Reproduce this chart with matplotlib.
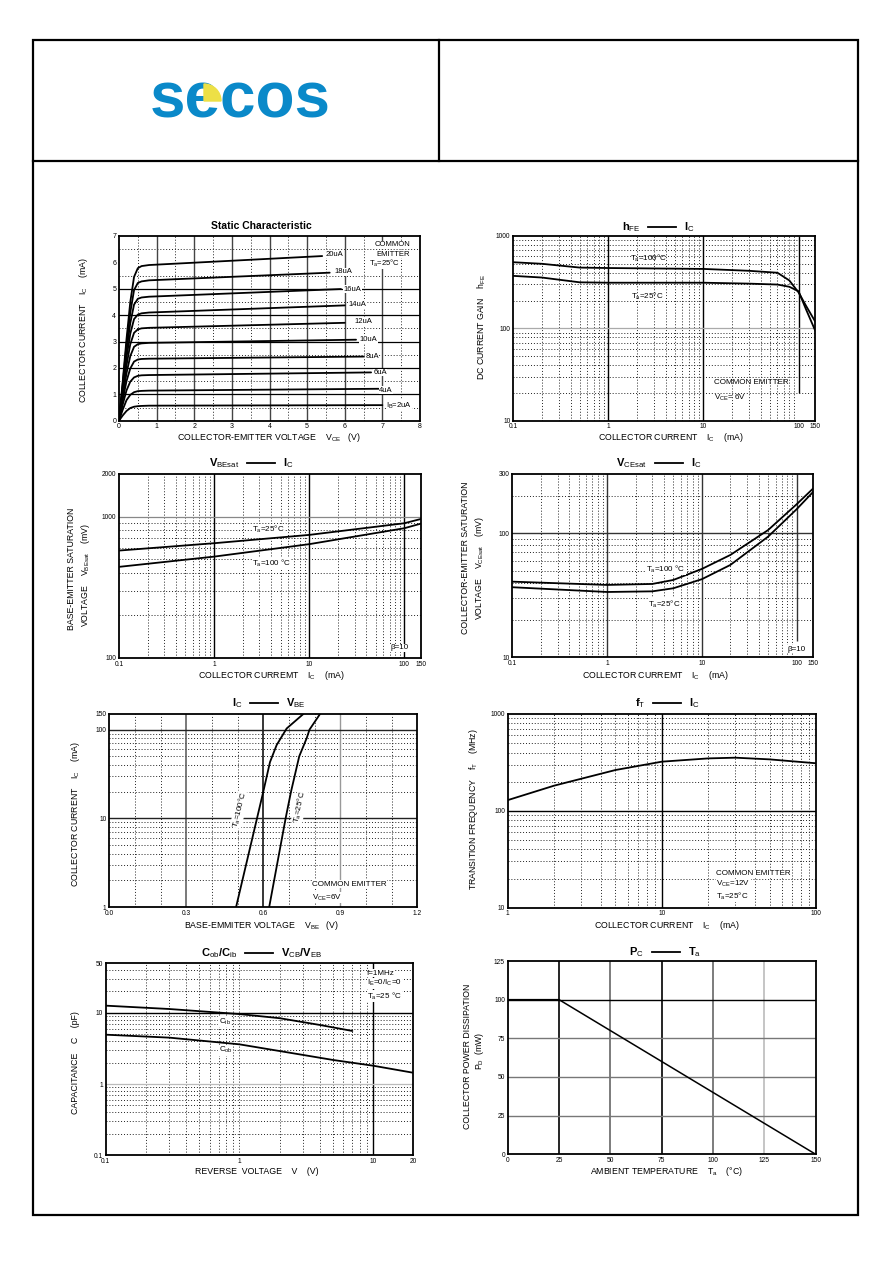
import numpy as np
import matplotlib
matplotlib.use('Agg')
import matplotlib.pyplot as plt
from matplotlib.patches import Wedge, Rectangle
from matplotlib.lines import Line2D

plt.rcParams['font.family'] = ['Liberation Sans', 'DejaVu Sans']
plt.rcParams['mathtext.fontset'] = 'custom'
plt.rcParams['mathtext.rm'] = 'Liberation Sans'
plt.rcParams['mathtext.it'] = 'Liberation Sans'
plt.rcParams['mathtext.bf'] = 'Liberation Sans:bold'

# ---------------- DATA ----------------
# Static characteristic (Ic vs Vce for several Ib)
vce_knee = [0, 0.1, 0.2, 0.3, 0.4, 0.5, 0.6, 0.8]
ib_labels = ['20uA', '18uA', '16uA', '14uA', '12uA', '10uA', '8uA', '6uA', '4uA', 'I$_B$=2uA']
ib_end_vce = [5.4, 5.6, 5.9, 6.0, 6.0, 6.3, 6.5, 6.7, 6.9, 7.0]
ic_ib20 = [0, 1.5, 3.1, 4.5, 5.45, 5.78, 5.86, 5.9, 6.24]
ic_ib18 = [0, 1.4, 2.9, 4.1, 4.95, 5.22, 5.28, 5.32, 5.61]
ic_ib16 = [0, 1.3, 2.65, 3.7, 4.4, 4.62, 4.67, 4.7, 4.99]
ic_ib14 = [0, 1.2, 2.4, 3.3, 3.85, 4.02, 4.07, 4.1, 4.37]
ic_ib12 = [0, 1.1, 2.1, 2.9, 3.33, 3.46, 3.5, 3.52, 3.71]
ic_ib10 = [0, 0.95, 1.8, 2.45, 2.8, 2.9, 2.93, 2.95, 3.07]
ic_ib8 = [0, 0.8, 1.5, 1.98, 2.24, 2.32, 2.34, 2.35, 2.43]
ic_ib6 = [0, 0.62, 1.15, 1.48, 1.64, 1.7, 1.72, 1.73, 1.83]
ic_ib4 = [0, 0.42, 0.78, 0.98, 1.08, 1.12, 1.13, 1.14, 1.21]
ic_ib2 = [0, 0.2, 0.37, 0.48, 0.53, 0.55, 0.56, 0.57, 0.59]
static_label_x = [5.5, 5.74, 5.96, 6.1, 6.25, 6.4, 6.55, 6.76, 6.91, 7.1]
static_label_y = [6.31, 5.65, 4.99, 4.39, 3.75, 3.06, 2.43, 1.83, 1.16, 0.56]

# hFE vs Ic
hfe_ic = [0.1, 0.2, 0.5, 1, 10, 30, 60, 80, 100, 120, 150]
hfe_100c = [520, 500, 455, 450, 440, 420, 400, 330, 245, 175, 118]
hfe_25c = [370, 355, 315, 312, 312, 305, 298, 282, 252, 160, 94]

# VBEsat vs Ic
vbe_ic = [0.1, 1, 10, 100, 150]
vbe_25c = [575, 648, 742, 897, 962]
vbe_100c = [441, 521, 638, 827, 892]

# VCEsat vs Ic
vce_ic = [0.1, 1, 3, 5, 10, 20, 50, 100, 150]
vce_100c = [40.7, 38.3, 39, 42, 51.5, 66.8, 106, 171, 230]
vce_25c = [36.7, 33.6, 34, 36, 42.6, 55.5, 93.8, 156, 216]

# Ic vs VBE
vbe_100c_v = [0.494, 0.551, 0.600, 0.626, 0.652, 0.691, 0.756]
ic_100c = [1, 5, 20, 43, 67, 103, 150]
vbe_25c_v = [0.623, 0.687, 0.708, 0.740, 0.769, 0.780, 0.821]
ic_25c = [1, 10, 20, 50, 80, 100, 150]

# fT vs Ic
ft_ic = [1, 2, 5, 10, 20, 30, 50, 100]
ft_mhz = [129, 182, 264, 322, 348, 354, 340, 310]

# Capacitance vs reverse voltage
cib_v = [0.1, 0.3, 1, 2, 4, 7]
cib_pf = [12.6, 11.3, 9.6, 8.4, 6.75, 5.56]
cob_v = [0.1, 0.3, 1, 3, 5, 10, 20]
cob_pf = [4.93, 4.48, 3.61, 2.56, 2.18, 1.81, 1.44]

# Power derating
ta_c = [0, 25, 150]
pd_mw = [100, 100, 0]

# tick labels
static_xticks = [0, 1, 2, 3, 4, 5, 6, 7, 8]
static_yticks = [0, 1, 2, 3, 4, 5, 6, 7]
ic_ticks_150 = [0.1, 1, 10, 100, 150]
ic_ticklabels_150 = ['0.1', '1', '10', '100', '150']
hfe_yticks = [10, 100, 1000]
vbe_yticks = [100, 1000, 2000]
vce_yticks = [10, 100, 300]
vbe_xticks = [0.0, 0.3, 0.6, 0.9, 1.2]
vbe_xticklabels = ['0.0', '0.3', '0.6', '0.9', '1.2']
icv_yticks = [1, 10, 100, 150]
ft_xticks = [1, 10, 100]
ft_yticks = [10, 100, 1000]
cap_xticks = [0.1, 1, 10, 20]
cap_xticklabels = ['0.1', '1', '10', '20']
cap_yticks = [0.1, 1, 10, 50]
cap_yticklabels = ['0.1', '1', '10', '50']
pd_xticks = [0, 25, 50, 75, 100, 125, 150]
pd_yticks = [0, 25, 50, 75, 100, 125]

# ---------------- FIGURE ----------------
W, H = 892, 1263
fig = plt.figure(figsize=(W / 100, H / 100), dpi=100)

def px_axes(l, r, t, b):
    return fig.add_axes([l / W, 1 - b / H, (r - l) / W, (b - t) / H])

def ftext(x, y, s, **kw):
    return fig.text(x / W, 1 - y / H, s, **kw)

DOT = (0, (1, 2))
DOTC = '#222222'
LABFS = 6.3
TICKFS = 4.8
ANNFS = 5.8
CURVE = dict(color='black', lw=1.3, solid_capstyle='round', zorder=5)
WB = dict(fc='white', ec='none', pad=0.3)

def style(ax, tfs=TICKFS):
    for sp in ax.spines.values():
        sp.set_linewidth(1.3)
        sp.set_color('black')
        sp.set_zorder(6)
    ax.tick_params(which='both', length=0, labelsize=tfs, pad=2)
    ax.minorticks_off()

def log_minor(lo, hi):
    out = []
    d = 10 ** np.floor(np.log10(lo))
    while d < hi:
        for m in range(2, 10):
            v = m * d
            if lo * 1.0001 < v < hi * 0.9999:
                out.append(v)
        d *= 10
    return out

def dotted_v(ax, vals):
    for v in vals:
        ax.axvline(v, ls=DOT, lw=0.7, color=DOTC, zorder=1)

def dotted_h(ax, vals):
    for v in vals:
        ax.axhline(v, ls=DOT, lw=0.7, color=DOTC, zorder=1)

def title(x, y, left, right):
    ftext(x - 22, y, left, ha='right', va='center', fontsize=8, fontweight='bold')
    ftext(x + 22, y, right, ha='left', va='center', fontsize=8, fontweight='bold')
    fig.add_artist(Line2D([(x - 14) / W, (x + 14) / W], [1 - y / H, 1 - y / H],
                          color='black', lw=1.3, transform=fig.transFigure))

# ---------------- PAGE FRAME ----------------
fig.add_artist(Rectangle((33 / W, 1 - 1215 / H), (858 - 33) / W, (1215 - 40) / H,
                         transform=fig.transFigure, fill=False, lw=1.6, ec='black'))
fig.add_artist(Line2D([33 / W, 858 / W], [1 - 161 / H, 1 - 161 / H], color='black',
                      lw=1.6, transform=fig.transFigure))
fig.add_artist(Line2D([439 / W, 439 / W], [1 - 40 / H, 1 - 161 / H], color='black',
                      lw=1.6, transform=fig.transFigure))

# logo
ftext(240, 118, 'secos', ha='center', va='baseline', fontsize=46,
      fontweight='bold', color='#0a89c9')
fig.add_artist(Wedge((2.04, (H - 101) / 100), 0.17, 0, 90, transform=fig.dpi_scale_trans,
                     color='#ede046', zorder=10))

# ---------------- 1. Static characteristic ----------------
ax = px_axes(119, 420, 236, 420.7)
style(ax, 5)
ax.set_xlim(0, 8); ax.set_ylim(0, 7)
dotted_v(ax, np.arange(0.5, 8, 1))
dotted_h(ax, np.arange(0.5, 7, 1))
for v in range(1, 8):
    ax.axvline(v, color='#444444', lw=1.0, zorder=1)
for v in range(1, 6):
    ax.axhline(v, color='black', lw=0.9, zorder=1)
curves = [ic_ib20, ic_ib18, ic_ib16, ic_ib14, ic_ib12, ic_ib10, ic_ib8, ic_ib6, ic_ib4, ic_ib2]
for ys, xe, lab, lx, ly in zip(curves, ib_end_vce, ib_labels, static_label_x, static_label_y):
    ax.plot(vce_knee + [xe], ys, **CURVE)
    ax.text(lx, ly, lab, fontsize=5.5, ha='left', va='center', zorder=7, bbox=WB)
ax.text(7.28, 6.66, 'COMMON', fontsize=5.5, ha='center', va='center', zorder=7, bbox=WB)
ax.text(7.28, 6.31, 'EMITTER', fontsize=5.5, ha='center', va='center', zorder=7, bbox=WB)
ax.text(6.65, 5.97, 'T$_a$=25°C', fontsize=5.5, ha='left', va='center', zorder=7, bbox=WB)
ax.set_xticks(static_xticks); ax.set_yticks(static_yticks)
ftext(261, 226, 'Static Characteristic', ha='center', va='center', fontsize=7.5, fontweight='bold')
ftext(269, 437, 'COLLECTOR-EMITTER VOLTAGE    V$_{CE}$   (V)', ha='center', va='center', fontsize=LABFS)
ftext(83, 330, 'COLLECTOR CURRENT    I$_C$    (mA)', ha='center', va='center',
      fontsize=LABFS, rotation=90)

# ---------------- 2. hFE - Ic ----------------
ax = px_axes(513.3, 815.3, 236, 420.7)
style(ax)
ax.set_xscale('log'); ax.set_yscale('log')
ax.set_xlim(0.1, 150); ax.set_ylim(10, 1000)
dotted_v(ax, log_minor(0.1, 150))
dotted_h(ax, log_minor(10, 1000))
for v in [1, 10]:
    ax.axvline(v, color='black', lw=1.0, zorder=2)
ax.vlines(100, 20, 1000, color='black', lw=1.0, zorder=2)
ax.axhline(100, color='#aaaaaa', lw=0.9, zorder=2)
ax.plot(hfe_ic, hfe_100c, **CURVE)
ax.plot(hfe_ic, hfe_25c, **CURVE)
ax.text(1.7, 575, 'T$_a$=100°C', fontsize=ANNFS, ha='left', va='center', zorder=7)
ax.text(1.75, 222, 'T$_a$=25°C', fontsize=ANNFS, ha='left', va='center', zorder=7)
ax.text(13, 26, 'COMMON EMITTER', fontsize=ANNFS, ha='left', va='center', zorder=7)
ax.text(13, 17.5, 'V$_{CE}$= 6V', fontsize=ANNFS, ha='left', va='center', zorder=7)
ax.set_xticks(ic_ticks_150); ax.set_xticklabels(ic_ticklabels_150)
ax.set_yticks(hfe_yticks); ax.set_yticklabels([str(v) for v in hfe_yticks])
ax.minorticks_off()
title(662, 227, 'h$_{FE}$', 'I$_C$')
ftext(671, 437, 'COLLECTOR CURRENT    I$_C$    (mA)', ha='center', va='center', fontsize=LABFS)
ftext(482, 327, 'DC CURRENT GAIN    h$_{FE}$', ha='center', va='center',
      fontsize=LABFS, rotation=90)

# ---------------- 3. VBEsat - Ic ----------------
ax = px_axes(119, 421, 474, 658)
style(ax)
ax.set_xscale('log'); ax.set_yscale('log')
ax.set_xlim(0.1, 150); ax.set_ylim(100, 2000)
dotted_v(ax, log_minor(0.1, 150))
dotted_h(ax, log_minor(100, 2000))
for v in [1, 10, 100]:
    ax.axvline(v, color='black', lw=1.0, zorder=2)
ax.axhline(1000, color='#888888', lw=0.9, zorder=2)
ax.plot(vbe_ic, vbe_25c, **CURVE)
ax.plot(vbe_ic, vbe_100c, **CURVE)
ax.text(2.5, 805, 'T$_a$=25°C', fontsize=ANNFS, ha='left', va='center', zorder=7, bbox=WB)
ax.text(2.5, 463, 'T$_a$=100 °C', fontsize=ANNFS, ha='left', va='center', zorder=7, bbox=WB)
ax.text(72, 118, 'β=10', fontsize=ANNFS, ha='left', va='center', zorder=7, bbox=WB)
ax.set_xticks(ic_ticks_150); ax.set_xticklabels(ic_ticklabels_150)
ax.set_yticks(vbe_yticks); ax.set_yticklabels([str(v) for v in vbe_yticks])
ax.minorticks_off()
title(261, 463, 'V$_{BEsat}$', 'I$_C$')
ftext(271, 676, 'COLLECTOR CURREMT    I$_C$    (mA)', ha='center', va='center', fontsize=LABFS)
ftext(72, 569, 'BASE-EMITTER SATURATION', ha='center', va='center', fontsize=LABFS, rotation=90)
ftext(85, 575, 'VOLTAGE    V$_{BEsat}$    (mV)', ha='center', va='center', fontsize=LABFS, rotation=90)

# ---------------- 4. VCEsat - Ic ----------------
ax = px_axes(512.3, 813.3, 474, 657.3)
style(ax)
ax.set_xscale('log'); ax.set_yscale('log')
ax.set_xlim(0.1, 150); ax.set_ylim(10, 300)
dotted_v(ax, log_minor(0.1, 150))
dotted_h(ax, log_minor(10, 300))
for v in [1, 10]:
    ax.axvline(v, color='#333333', lw=1.0, zorder=2)
ax.vlines(100, 13.5, 300, color='#333333', lw=1.0, zorder=2)
ax.axhline(100, color='#333333', lw=1.0, zorder=2)
ax.plot(vce_ic, vce_100c, **CURVE)
ax.plot(vce_ic, vce_25c, **CURVE)
ax.text(2.6, 51.5, 'T$_a$=100 °C', fontsize=ANNFS, ha='left', va='center', zorder=7, bbox=WB)
ax.text(2.7, 26.7, 'T$_a$=25°C', fontsize=ANNFS, ha='left', va='center', zorder=7, bbox=WB)
ax.text(80, 11.6, 'β=10', fontsize=ANNFS, ha='left', va='center', zorder=7, bbox=WB)
ax.set_xticks(ic_ticks_150); ax.set_xticklabels(ic_ticklabels_150)
ax.set_yticks(vce_yticks); ax.set_yticklabels([str(v) for v in vce_yticks])
ax.minorticks_off()
title(669, 463, 'V$_{CEsat}$', 'I$_C$')
ftext(655, 675, 'COLLECTOR CURREMT    I$_C$    (mA)', ha='center', va='center', fontsize=LABFS)
ftext(466, 558, 'COLLECTOR-EMITTER SATURATION', ha='center', va='center', fontsize=LABFS, rotation=90)
ftext(479, 568, 'VOLTAGE    V$_{CEsat}$    (mV)', ha='center', va='center', fontsize=LABFS, rotation=90)

# ---------------- 5. Ic - VBE ----------------
ax = px_axes(109.3, 417.3, 714, 907)
style(ax)
ax.set_yscale('log')
ax.set_xlim(0, 1.2); ax.set_ylim(1, 150)
dotted_v(ax, [0.1, 0.2, 0.4, 0.5, 0.7, 0.8, 1.0, 1.1])
dotted_h(ax, log_minor(1, 150))
ax.axvline(0.3, color='#555555', lw=1.1, zorder=2)
ax.axvline(0.6, color='black', lw=1.1, zorder=2)
ax.axvline(0.9, color='#999999', lw=1.0, zorder=2)
ax.axhline(10, color='#222222', lw=1.0, zorder=2)
ax.axhline(100, color='#222222', lw=1.0, zorder=2)
ax.plot(vbe_100c_v, ic_100c, **CURVE)
ax.plot(vbe_25c_v, ic_25c, **CURVE)
ax.text(0.508, 12.5, 'T$_a$=100°C', fontsize=ANNFS, ha='center', va='center', rotation=76, zorder=7,
        bbox=dict(fc='white', ec='none', pad=0.2))
ax.text(0.742, 13.5, 'T$_a$=25°C', fontsize=ANNFS, ha='center', va='center', rotation=78, zorder=7,
        bbox=dict(fc='white', ec='none', pad=0.2))
ax.text(0.79, 1.8, 'COMMON EMITTER', fontsize=ANNFS, ha='left', va='center', zorder=7, bbox=WB)
ax.text(0.79, 1.27, 'V$_{CE}$=6V', fontsize=ANNFS, ha='left', va='center', zorder=7, bbox=WB)
ax.set_xticks(vbe_xticks); ax.set_xticklabels(vbe_xticklabels)
ax.set_yticks(icv_yticks); ax.set_yticklabels([str(v) for v in icv_yticks])
ax.minorticks_off()
title(264, 703, 'I$_C$', 'V$_{BE}$')
ftext(261, 925, 'BASE-EMMITER VOLTAGE    V$_{BE}$   (V)', ha='center', va='center', fontsize=LABFS)
ftext(75, 814, 'COLLECTOR CURRENT    I$_C$    (mA)', ha='center', va='center', fontsize=LABFS, rotation=90)

# ---------------- 6. fT - Ic ----------------
ax = px_axes(507.7, 816, 714, 907.7)
style(ax)
ax.set_xscale('log'); ax.set_yscale('log')
ax.set_xlim(1, 100); ax.set_ylim(10, 1000)
dotted_v(ax, log_minor(1, 100))
dotted_h(ax, log_minor(10, 1000))
ax.axvline(10, color='black', lw=1.0, zorder=2)
ax.axhline(100, color='black', lw=1.0, zorder=2)
ax.plot(ft_ic, ft_mhz, **CURVE)
ax.text(22.5, 22.3, 'COMMON EMITTER', fontsize=ANNFS, ha='left', va='center', zorder=7, bbox=WB)
ax.text(22.5, 17.5, 'V$_{CE}$=12V', fontsize=ANNFS, ha='left', va='center', zorder=7, bbox=WB)
ax.text(22.5, 13.1, 'T$_a$=25°C', fontsize=ANNFS, ha='left', va='center', zorder=7, bbox=WB)
ax.set_xticks(ft_xticks); ax.set_xticklabels([str(v) for v in ft_xticks])
ax.set_yticks(ft_yticks); ax.set_yticklabels([str(v) for v in ft_yticks])
ax.minorticks_off()
title(667, 703, 'f$_T$', 'I$_C$')
ftext(667, 925, 'COLLECTOR CURRENT    I$_C$    (mA)', ha='center', va='center', fontsize=LABFS)
ftext(473, 809, 'TRANSITION FREQUENCY    f$_T$    (MHz)', ha='center', va='center', fontsize=LABFS, rotation=90)

# ---------------- 7. Capacitance ----------------
ax = px_axes(105.7, 413.3, 963, 1155.3)
style(ax)
ax.set_xscale('log'); ax.set_yscale('log')
ax.set_xlim(0.1, 20); ax.set_ylim(0.1, 50)
dotted_v(ax, log_minor(0.1, 20) + [1])
dotted_h(ax, log_minor(0.1, 50))
ax.axvline(10, color='black', lw=1.0, zorder=2)
ax.axhline(10, color='black', lw=1.0, zorder=2)
ax.axhline(1, color='#bbbbbb', lw=0.9, zorder=2)
ax.plot(cib_v, cib_pf, **CURVE)
ax.plot(cob_v, cob_pf, **CURVE)
ax.text(0.7, 7.5, 'C$_{ib}$', fontsize=ANNFS, ha='left', va='center', zorder=7, bbox=WB)
ax.text(0.7, 3.0, 'C$_{ob}$', fontsize=ANNFS, ha='left', va='center', zorder=7, bbox=WB)
ax.text(9.0, 35.8, 'f=1MHz', fontsize=ANNFS, ha='left', va='center', zorder=7, bbox=WB)
ax.text(9.0, 25.9, 'I$_E$=0/I$_C$=0', fontsize=ANNFS, ha='left', va='center', zorder=7, bbox=WB)
ax.text(9.0, 17.2, 'T$_a$=25 °C', fontsize=ANNFS, ha='left', va='center', zorder=7, bbox=WB)
ax.set_xticks(cap_xticks); ax.set_xticklabels(cap_xticklabels)
ax.set_yticks(cap_yticks); ax.set_yticklabels(cap_yticklabels)
ax.minorticks_off()
title(259, 953, 'C$_{ob}$/C$_{ib}$', 'V$_{CB}$/V$_{EB}$')
ftext(257, 1172, 'REVERSE  VOLTAGE    V    (V)', ha='center', va='center', fontsize=LABFS)
ftext(75, 1063, 'CAPACITANCE    C    (pF)', ha='center', va='center', fontsize=LABFS, rotation=90)

# ---------------- 8. Pc - Ta ----------------
ax = px_axes(507.7, 815.7, 961, 1154.3)
style(ax)
ax.set_xlim(0, 150); ax.set_ylim(0, 125)
vcols = {25: 'black', 50: '#666666', 75: 'black', 100: '#666666', 125: '#bbbbbb'}
for v, c in vcols.items():
    ax.axvline(v, color=c, lw=1.2, zorder=2)
hcols = {25: '#777777', 50: '#777777', 75: '#777777', 100: 'black'}
for v, c in hcols.items():
    ax.axhline(v, color=c, lw=1.0, zorder=2)
ax.plot(ta_c, pd_mw, color='black', lw=1.1, zorder=5)
ax.set_xticks(pd_xticks); ax.set_xticklabels([str(v) for v in pd_xticks])
ax.set_yticks(pd_yticks); ax.set_yticklabels([str(v) for v in pd_yticks])
title(666, 952, 'P$_C$', 'T$_a$')
ftext(667, 1171, 'AMBIENT TEMPERATURE    T$_a$    (°C)', ha='center', va='center', fontsize=LABFS)
ftext(467, 1056, 'COLLECTOR POWER DISSIPATION', ha='center', va='center', fontsize=LABFS, rotation=90)
ftext(479, 1051, 'P$_D$  (mW)', ha='center', va='center', fontsize=LABFS, rotation=90)

fig.savefig('out.png', dpi=100)
